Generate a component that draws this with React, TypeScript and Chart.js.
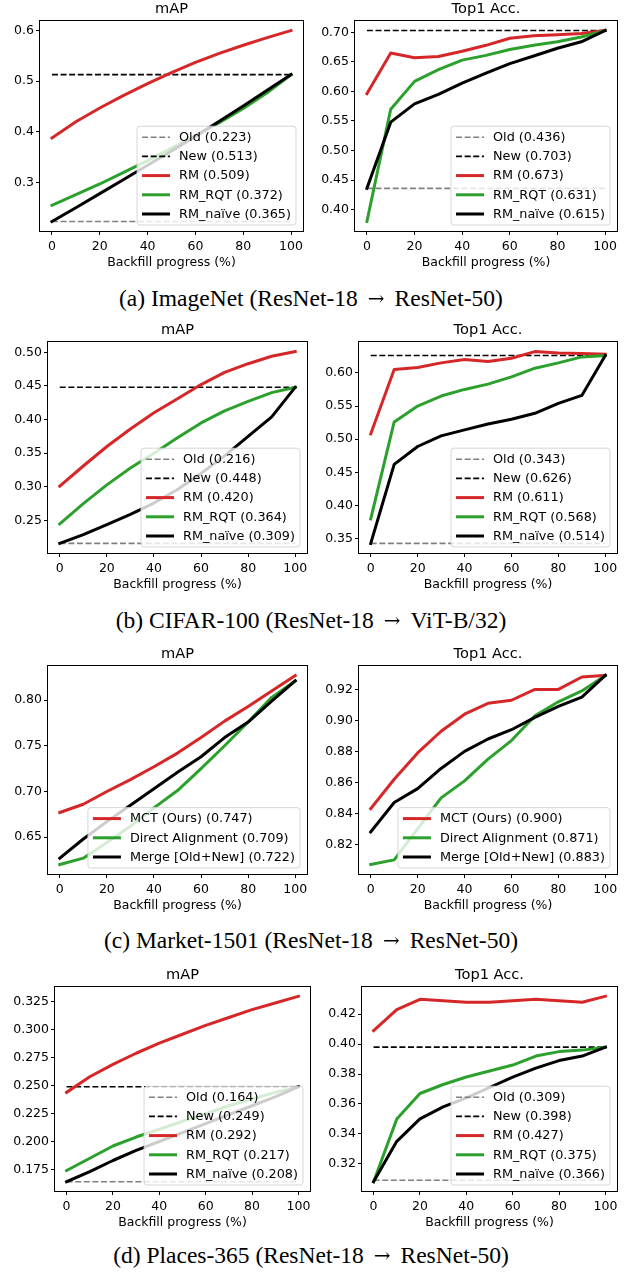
import React, { useEffect, useRef } from "react";
import { Chart, registerables } from "chart.js";

Chart.register(...registerables);

// ---------- data ----------
const progress = [0, 10, 20, 30, 40, 50, 60, 70, 80, 90, 100];
const refEnds = [0, 100];

// (a) ImageNet
const inMapOld = 0.223;
const inMapNew = 0.513;
const inMapRM = [0.388, 0.42, 0.447, 0.472, 0.495, 0.517, 0.537, 0.555, 0.571, 0.586, 0.6];
const inMapRQT = [0.255, 0.276, 0.297, 0.32, 0.343, 0.368, 0.393, 0.418, 0.446, 0.477, 0.513];
const inMapNaive = [0.223, 0.25, 0.278, 0.306, 0.334, 0.362, 0.391, 0.421, 0.451, 0.482, 0.513];
const inMapLabels = ["Old (0.223)", "New (0.513)", "RM (0.509)", "RM_RQT (0.372)", "RM_naïve (0.365)"];

const inTopOld = 0.436;
const inTopNew = 0.703;
const inTopRM = [0.596, 0.665, 0.657, 0.659, 0.668, 0.678, 0.69, 0.694, 0.696, 0.698, 0.703];
const inTopRQT = [0.38, 0.57, 0.617, 0.637, 0.653, 0.661, 0.671, 0.678, 0.684, 0.692, 0.703];
const inTopNaive = [0.436, 0.548, 0.579, 0.595, 0.614, 0.631, 0.647, 0.66, 0.673, 0.684, 0.703];
const inTopLabels = ["Old (0.436)", "New (0.703)", "RM (0.673)", "RM_RQT (0.631)", "RM_naïve (0.615)"];

// (b) CIFAR-100
const cfMapOld = 0.216;
const cfMapNew = 0.448;
const cfMapRM = [0.301, 0.331, 0.36, 0.386, 0.41, 0.431, 0.452, 0.47, 0.483, 0.494, 0.501];
const cfMapRQT = [0.245, 0.275, 0.303, 0.328, 0.35, 0.373, 0.395, 0.413, 0.427, 0.44, 0.448];
const cfMapNaive = [0.216, 0.229, 0.244, 0.259, 0.276, 0.296, 0.32, 0.346, 0.375, 0.404, 0.448];
const cfMapLabels = ["Old (0.216)", "New (0.448)", "RM (0.420)", "RM_RQT (0.364)", "RM_naïve (0.309)"];

const cfTopOld = 0.343;
const cfTopNew = 0.626;
const cfTopRM = [0.508, 0.605, 0.608, 0.615, 0.62, 0.617, 0.622, 0.632, 0.63, 0.629, 0.628];
const cfTopRQT = [0.38, 0.526, 0.55, 0.565, 0.575, 0.583, 0.594, 0.607, 0.615, 0.624, 0.626];
const cfTopNaive = [0.343, 0.462, 0.489, 0.505, 0.514, 0.523, 0.53, 0.539, 0.554, 0.566, 0.626];
const cfTopLabels = ["Old (0.343)", "New (0.626)", "RM (0.611)", "RM_RQT (0.568)", "RM_naïve (0.514)"];

// (c) Market-1501
const mkMapMCT = [0.677, 0.686, 0.7, 0.713, 0.727, 0.742, 0.759, 0.777, 0.793, 0.81, 0.827];
const mkMapDA = [0.62, 0.627, 0.644, 0.662, 0.682, 0.701, 0.725, 0.75, 0.776, 0.803, 0.821];
const mkMapMerge = [0.627, 0.648, 0.667, 0.685, 0.703, 0.721, 0.738, 0.759, 0.776, 0.799, 0.821];
const mkMapLabels = ["MCT (Ours) (0.747)", "Direct Alignment (0.709)", "Merge [Old+New] (0.722)"];

const mkTopMCT = [0.843, 0.862, 0.879, 0.893, 0.904, 0.911, 0.913, 0.92, 0.92, 0.928, 0.929];
const mkTopDA = [0.807, 0.81, 0.83, 0.85, 0.861, 0.875, 0.887, 0.903, 0.912, 0.919, 0.929];
const mkTopMerge = [0.828, 0.847, 0.856, 0.869, 0.88, 0.888, 0.894, 0.902, 0.909, 0.915, 0.929];
const mkTopLabels = ["MCT (Ours) (0.900)", "Direct Alignment (0.871)", "Merge [Old+New] (0.883)"];

// (d) Places-365
const plMapOld = 0.164;
const plMapNew = 0.249;
const plMapRM = [0.244, 0.258, 0.269, 0.279, 0.288, 0.296, 0.304, 0.311, 0.318, 0.324, 0.33];
const plMapRQT = [0.174, 0.185, 0.196, 0.204, 0.211, 0.218, 0.225, 0.232, 0.238, 0.244, 0.249];
const plMapNaive = [0.164, 0.173, 0.183, 0.192, 0.2, 0.208, 0.216, 0.224, 0.232, 0.24, 0.249];
const plMapLabels = ["Old (0.164)", "New (0.249)", "RM (0.292)", "RM_RQT (0.217)", "RM_naïve (0.208)"];

const plTopOld = 0.309;
const plTopNew = 0.398;
const plTopRM = [0.409, 0.423, 0.43, 0.429, 0.428, 0.428, 0.429, 0.43, 0.429, 0.428, 0.432];
const plTopRQT = [0.308, 0.35, 0.367, 0.373, 0.378, 0.382, 0.386, 0.392, 0.395, 0.396, 0.398];
const plTopNaive = [0.308, 0.335, 0.35, 0.358, 0.364, 0.371, 0.378, 0.384, 0.389, 0.392, 0.398];
const plTopLabels = ["Old (0.309)", "New (0.398)", "RM (0.427)", "RM_RQT (0.375)", "RM_naïve (0.366)"];

const xTicksStep = 20;
const captions = [
  "(a) ImageNet (ResNet-18 → ResNet-50)",
  "(b) CIFAR-100 (ResNet-18 → ViT-B/32)",
  "(c) Market-1501 (ResNet-18 → ResNet-50)",
  "(d) Places-365 (ResNet-18 → ResNet-50)",
];

// ---------- styles ----------
const RED = "#d62728";
const GREEN = "#2ca02c";
const BLACK = "#000000";
const GRAY = "#808080";
const SOLID_W = 3;
const DASH_W = 1.6;
const DASH = [6, 2.6];
const FONT = "'DejaVu Sans', sans-serif";
const TICK_SIZE = 12.5;
const LEGEND_SIZE = 12.8;
const TITLE_SIZE = 14.6;

type Series = { label: string; xs: number[]; ys: number[]; color: string; width: number; dash?: number[] };

function rmSeries(labels: string[], oldV: number, newV: number, rm: number[], rqt: number[], naive: number[]): Series[] {
  return [
    { label: labels[0], xs: refEnds, ys: [oldV, oldV], color: GRAY, width: DASH_W, dash: DASH },
    { label: labels[1], xs: refEnds, ys: [newV, newV], color: BLACK, width: DASH_W, dash: DASH },
    { label: labels[2], xs: progress, ys: rm, color: RED, width: SOLID_W },
    { label: labels[3], xs: progress, ys: rqt, color: GREEN, width: SOLID_W },
    { label: labels[4], xs: progress, ys: naive, color: BLACK, width: SOLID_W },
  ];
}

function mkSeries(labels: string[], mct: number[], da: number[], merge: number[]): Series[] {
  return [
    { label: labels[0], xs: progress, ys: mct, color: RED, width: SOLID_W },
    { label: labels[1], xs: progress, ys: da, color: GREEN, width: SOLID_W },
    { label: labels[2], xs: progress, ys: merge, color: BLACK, width: SOLID_W },
  ];
}

type PanelCfg = {
  box: [number, number, number, number]; // L, T, R, B of the axes box
  left: boolean;
  title: string;
  step: number;
  dec: number;
  series: Series[];
};

const panels: PanelCfg[] = [
  { box: [40, 21, 303, 231], left: true, title: "mAP", step: 0.1, dec: 1, series: rmSeries(inMapLabels, inMapOld, inMapNew, inMapRM, inMapRQT, inMapNaive) },
  { box: [355, 21, 617, 231], left: false, title: "Top1 Acc.", step: 0.05, dec: 2, series: rmSeries(inTopLabels, inTopOld, inTopNew, inTopRM, inTopRQT, inTopNaive) },
  { box: [48, 342, 307, 553], left: true, title: "mAP", step: 0.05, dec: 2, series: rmSeries(cfMapLabels, cfMapOld, cfMapNew, cfMapRM, cfMapRQT, cfMapNaive) },
  { box: [359, 342, 617, 553], left: false, title: "Top1 Acc.", step: 0.05, dec: 2, series: rmSeries(cfTopLabels, cfTopOld, cfTopNew, cfTopRM, cfTopRQT, cfTopNaive) },
  { box: [48, 666, 307, 874], left: true, title: "mAP", step: 0.05, dec: 2, series: mkSeries(mkMapLabels, mkMapMCT, mkMapDA, mkMapMerge) },
  { box: [359, 666, 617, 874], left: false, title: "Top1 Acc.", step: 0.02, dec: 2, series: mkSeries(mkTopLabels, mkTopMCT, mkTopDA, mkTopMerge) },
  { box: [55, 987, 310, 1191], left: true, title: "mAP", step: 0.025, dec: 3, series: rmSeries(plMapLabels, plMapOld, plMapNew, plMapRM, plMapRQT, plMapNaive) },
  { box: [362, 987, 617, 1191], left: false, title: "Top1 Acc.", step: 0.02, dec: 2, series: rmSeries(plTopLabels, plTopOld, plTopNew, plTopRM, plTopRQT, plTopNaive) },
];

const captionCenters = [298, 620, 940, 1255];

// ---------- plugins ----------
const spinesPlugin = {
  id: "spines",
  afterDraw(chart: any) {
    const { ctx, chartArea: a } = chart;
    ctx.save();
    ctx.strokeStyle = "#000";
    ctx.lineWidth = 1;
    ctx.setLineDash([]);
    ctx.strokeRect(a.left - 0.5, a.top - 0.5, a.right - a.left + 1, a.bottom - a.top + 1);
    ctx.restore();
  },
};

const mplLegendPlugin = {
  id: "mplLegend",
  afterDatasetsDraw(chart: any) {
    const { ctx, chartArea: a } = chart;
    const items = chart.data.datasets.map((d: any) => ({
      label: d.label as string,
      color: d.borderColor as string,
      width: d.borderWidth as number,
      dash: (d.borderDash || []) as number[],
    }));
    ctx.save();
    ctx.font = `${LEGEND_SIZE}px ${FONT}`;
    const textW = Math.max(...items.map((i: any) => ctx.measureText(i.label).width));
    const pad = 5;
    const handle = 28;
    const gap = 9;
    const rowH = 19.2;
    const w = pad + handle + gap + textW + pad;
    const h = (items.length - 1) * rowH + 22;
    const x = a.right - 7 - w;
    const y = a.bottom - 6 - h;
    ctx.beginPath();
    ctx.roundRect(x, y, w, h, 3);
    ctx.fillStyle = "rgba(255,255,255,0.8)";
    ctx.fill();
    ctx.strokeStyle = "rgba(204,204,204,0.8)";
    ctx.lineWidth = 1;
    ctx.stroke();
    items.forEach((it: any, i: number) => {
      const cy = y + 11 + i * rowH;
      ctx.beginPath();
      ctx.setLineDash(it.dash);
      ctx.lineCap = "butt";
      ctx.strokeStyle = it.color;
      ctx.lineWidth = it.width;
      ctx.moveTo(x + pad, cy);
      ctx.lineTo(x + pad + handle, cy);
      ctx.stroke();
      ctx.setLineDash([]);
      ctx.fillStyle = "#000";
      ctx.textBaseline = "middle";
      ctx.textAlign = "left";
      ctx.fillText(it.label, x + pad + handle + gap, cy + 0.5);
    });
    ctx.restore();
  },
};

// ---------- components ----------
const PAD_T = 26;
const PAD_R = 14;
const PAD_B = 42;

function Panel({ cfg }: { cfg: PanelCfg }) {
  const ref = useRef<HTMLCanvasElement>(null);
  const [L, T, R, B] = cfg.box;
  const padL = cfg.left ? L : 50;
  const cw = R - L + padL + PAD_R;
  const ch = B - T + PAD_T + PAD_B;

  useEffect(() => {
    const canvas = ref.current!;
    const all = cfg.series.flatMap((s) => s.ys);
    const lo = Math.min(...all);
    const hi = Math.max(...all);
    const m = (hi - lo) * 0.05;
    const n = cfg.series.length;
    const chart = new Chart(canvas, {
      type: "line",
      data: {
        datasets: cfg.series.map((s, i) => ({
          label: s.label,
          data: s.xs.map((x, j) => ({ x, y: s.ys[j] })),
          borderColor: s.color,
          backgroundColor: s.color,
          borderWidth: s.width,
          borderDash: s.dash || [],
          borderJoinStyle: "round" as const,
          borderCapStyle: (s.dash ? "butt" : "square") as any,
          pointRadius: 0,
          pointHoverRadius: 0,
          fill: false,
          tension: 0,
          order: n - i,
        })),
      },
      options: {
        responsive: false,
        animation: false,
        events: [],
        layout: { padding: { top: 0, left: 0, right: PAD_R, bottom: 0 } },
        plugins: {
          legend: { display: false },
          tooltip: { enabled: false },
          title: {
            display: true,
            text: cfg.title,
            fullSize: false,
            color: "#000",
            font: { family: FONT, size: TITLE_SIZE, weight: "normal", lineHeight: "16px" },
            padding: { top: PAD_T - 20, bottom: 4 },
          },
        },
        scales: {
          x: {
            type: "linear",
            min: -5,
            max: 105,
            afterFit: (s: any) => {
              s.height = PAD_B;
              s.paddingLeft = 0;
              s.paddingRight = 0;
            },
            ticks: {
              stepSize: xTicksStep,
              includeBounds: false,
              autoSkip: false,
              maxRotation: 0,
              color: "#000",
              padding: 4,
              font: { family: FONT, size: TICK_SIZE, lineHeight: 1.2 },
            },
            grid: { display: true, drawOnChartArea: false, drawTicks: true, tickLength: 4, color: "#000", lineWidth: 1 },
            border: { display: false },
            title: {
              display: true,
              text: "Backfill progress (%)",
              color: "#000",
              font: { family: FONT, size: TICK_SIZE, lineHeight: 1.2 },
              padding: { top: 0, bottom: 2.5 },
            },
          },
          y: {
            type: "linear",
            min: lo - m,
            max: hi + m,
            afterFit: (s: any) => {
              s.width = padL;
              s.paddingTop = 0;
              s.paddingBottom = 0;
            },
            ticks: {
              stepSize: cfg.step,
              includeBounds: false,
              autoSkip: false,
              color: "#000",
              padding: 2,
              font: { family: FONT, size: TICK_SIZE },
              callback: (v: any) => Number(v).toFixed(cfg.dec),
            },
            grid: { display: true, drawOnChartArea: false, drawTicks: true, tickLength: 4, color: "#000", lineWidth: 1 },
            border: { display: false },
          },
        },
      },
      plugins: [mplLegendPlugin, spinesPlugin],
    } as any);
    return () => chart.destroy();
  }, []);

  return (
    <canvas
      ref={ref}
      width={cw}
      height={ch}
      style={{ position: "absolute", left: L - padL, top: T - PAD_T, width: cw, height: ch }}
    />
  );
}

function Caption({ text, center }: { text: string; center: number }) {
  const [before, after] = text.split("→");
  return (
    <div
      style={{
        position: "absolute",
        left: 0,
        width: 622,
        top: center - 14,
        height: 28,
        lineHeight: "28px",
        textAlign: "center",
        fontFamily: "'Liberation Serif', 'Times New Roman', serif",
        fontSize: 23.5,
        color: "#000",
        whiteSpace: "nowrap",
      }}
    >
      {before.trimEnd()}
      <span style={{ fontFamily: "'DejaVu Serif', serif", fontSize: 20, margin: "0 0.5em", position: "relative", top: -1 }}>→</span>
      {after.trimStart()}
    </div>
  );
}

export default function App() {
  return (
    <div style={{ position: "absolute", left: 0, top: 0, width: 627, height: 1272, background: "#fff", overflow: "hidden" }}>
      {panels.map((p, i) => (
        <Panel key={i} cfg={p} />
      ))}
      {captions.map((c, i) => (
        <Caption key={"c" + i} text={c} center={captionCenters[i]} />
      ))}
    </div>
  );
}
